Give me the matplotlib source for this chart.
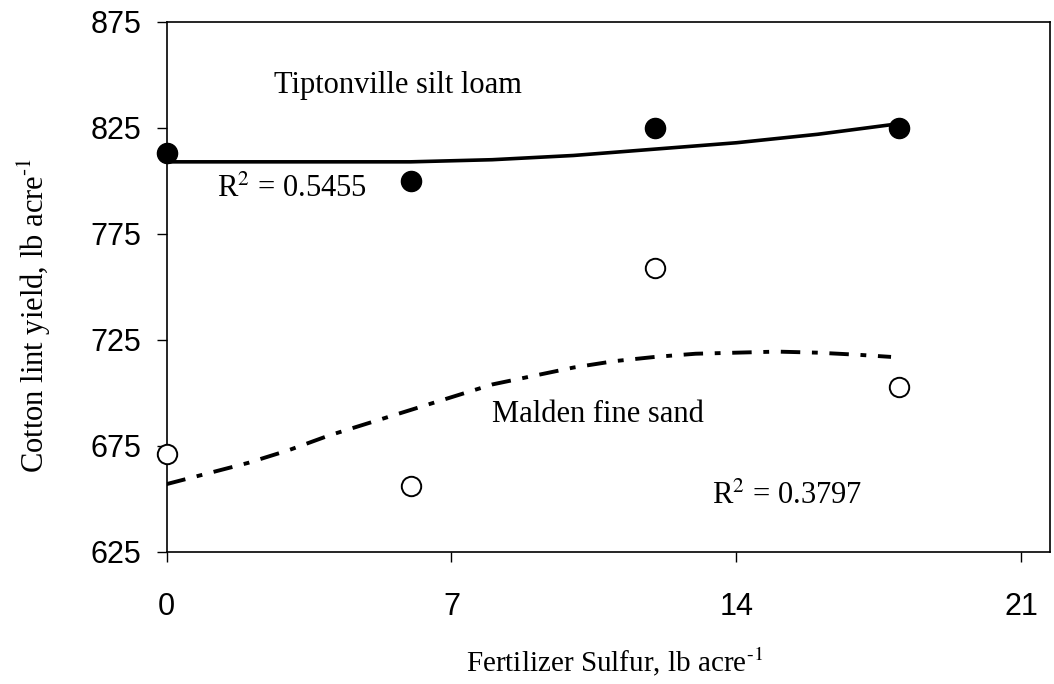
import numpy as np
import matplotlib
matplotlib.use("Agg")
import matplotlib.pyplot as plt

# ====================== DATA ======================
sulfur = [0, 6, 12, 18]
tipton_yield = [813, 800, 825, 825]
malden_yield = [671, 656, 759, 703]

# fitted trend lines
tipton_fit_x = [0, 2, 4, 6, 8, 10, 12, 14, 16, 18]
tipton_fit_y = [809, 809, 809, 809, 810, 812, 815, 818, 822, 827]
malden_fit_x = [0, 1, 2, 3, 4, 5, 6, 7, 8, 9, 10, 11, 12, 13, 14, 15, 16, 17, 17.8]
malden_fit_y = [657, 662, 667, 673, 680, 686, 692, 698, 704, 708, 712, 715,
                717, 718.5, 719, 719.5, 719, 718, 717]

xticks = [0, 7, 14, 21]
yticks = [625, 675, 725, 775, 825, 875]

# ====================== PLOT ======================
plt.rcParams['mathtext.fontset'] = 'stix'
serif = 'Liberation Serif'
sans = 'Liberation Sans'

fig = plt.figure(figsize=(10.54, 6.84), dpi=100)
ax = fig.add_axes([0.158, 0.193, 0.838, 0.775])

ax.plot(tipton_fit_x, tipton_fit_y, color='black', lw=2.6, solid_capstyle='butt')
ax.plot(malden_fit_x, malden_fit_y, color='black', lw=2.8,
        dashes=(5, 3, 1.5, 3), dash_capstyle='butt')

ax.plot(sulfur, tipton_yield, 'o', ms=14.5, color='black', clip_on=False, zorder=3)
ax.plot(sulfur, malden_yield, 'o', ms=14, mfc='white', mec='black', mew=1.4,
        clip_on=False, zorder=3)

ax.text(2.65, 845, 'Tiptonville silt loam', family=serif, fontsize=22, va='center')
ax.text(1.25, 796, 'R$^2$ = 0.5455', family=serif, fontsize=22, va='center')
ax.text(8.0, 690, 'Malden fine sand', family=serif, fontsize=22, va='center')
ax.text(13.4, 651, 'R$^2$ = 0.3797', family=serif, fontsize=22, va='center')

ax.set_xlim(0, 21.7)
ax.set_ylim(625, 875)
ax.set_xticks(xticks)
ax.set_yticks(yticks)
ax.tick_params(axis='both', direction='out', length=7, width=1, labelsize=22)
ax.tick_params(axis='x', pad=22)
ax.tick_params(axis='y', pad=11)
for lab in ax.get_xticklabels() + ax.get_yticklabels():
    lab.set_family(sans)

for sp in ax.spines.values():
    sp.set_linewidth(1.2)

ax.set_xlabel(r'Fertilizer Sulfur, lb acre$^{\text{-1}}$', family=serif, fontsize=21, va='center')
ax.set_ylabel(r'Cotton lint yield, lb acre$^{\text{-1}}$', family=serif, fontsize=22, va='center')
ax.xaxis.set_label_coords(0.507, -0.2075)
ax.yaxis.set_label_coords(-0.1495, 0.447)

fig.savefig('out.png', dpi=100, facecolor='white')
